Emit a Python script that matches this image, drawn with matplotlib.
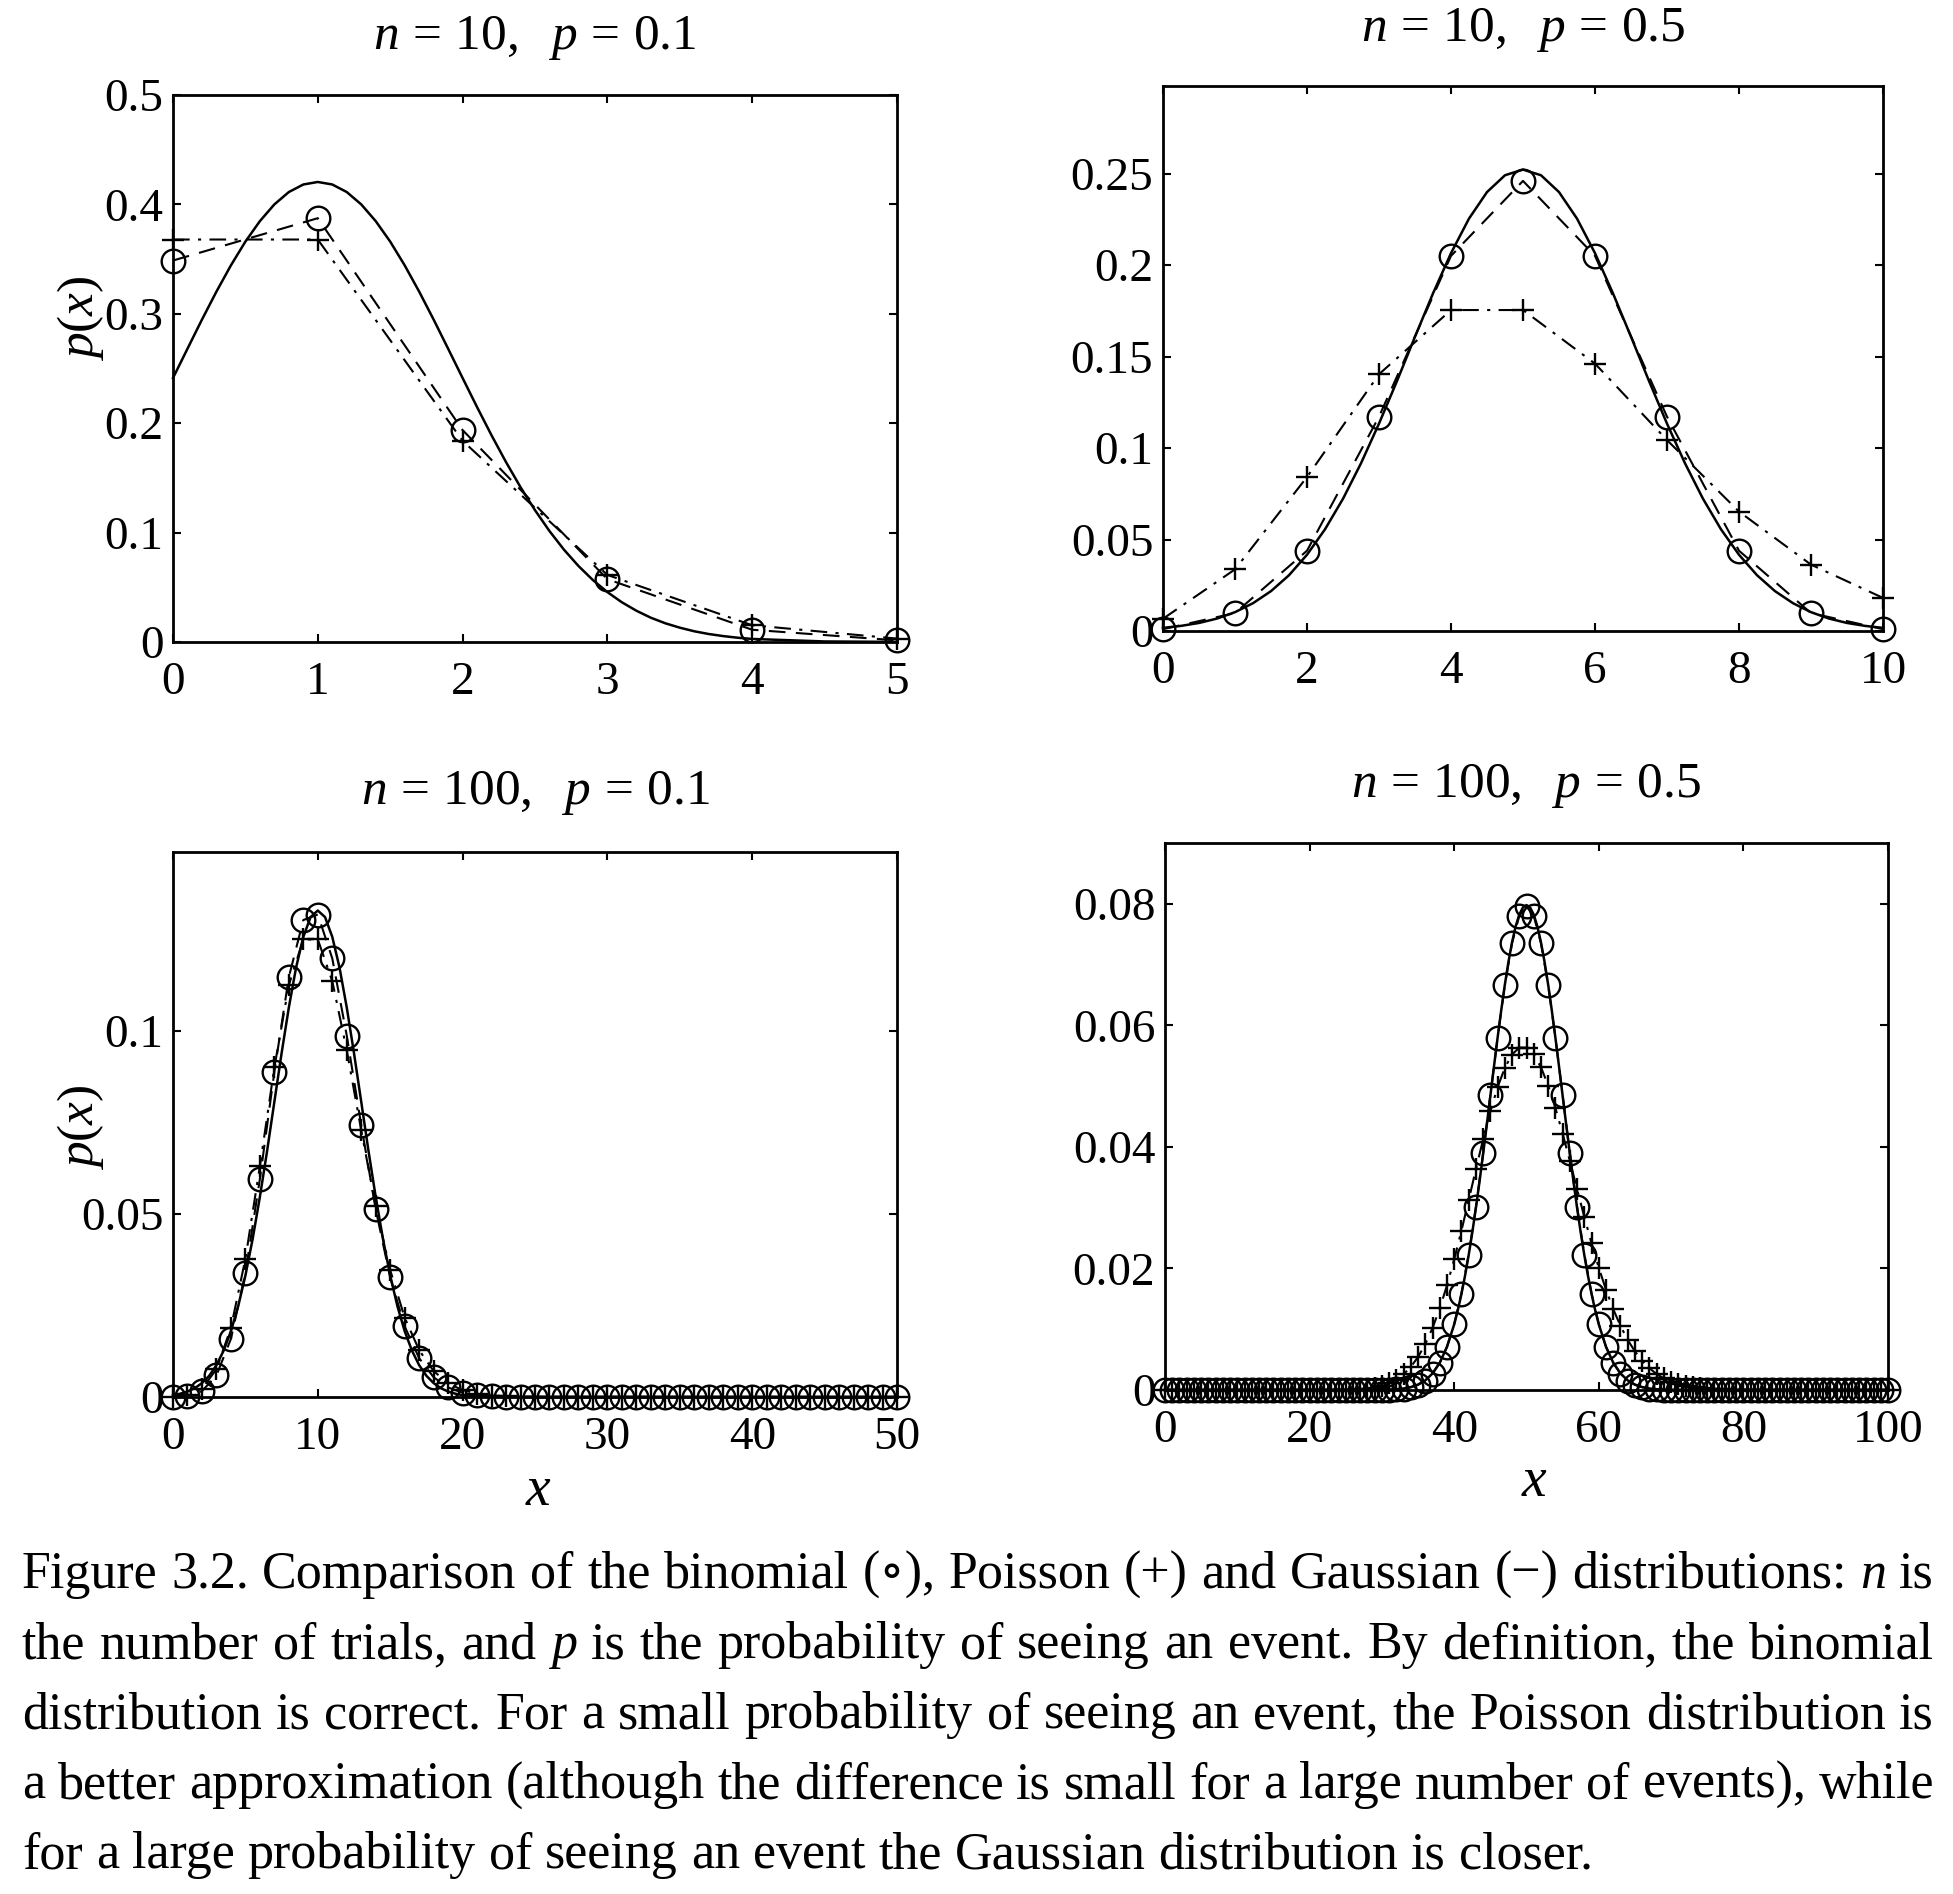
import numpy as np
import matplotlib
matplotlib.use("Agg")
import matplotlib.pyplot as plt
from matplotlib.ticker import FixedLocator, FixedFormatter

plt.rcParams['font.family'] = ['Liberation Serif', 'DejaVu Serif']
plt.rcParams['mathtext.fontset'] = 'custom'
plt.rcParams['mathtext.rm'] = 'Liberation Serif'
plt.rcParams['mathtext.it'] = 'Liberation Serif:italic'
plt.rcParams['mathtext.bf'] = 'Liberation Serif:bold'

# ---------------- data ----------------
# n = 10, p = 0.1
x_a = [0, 1, 2, 3, 4, 5]
binom_a = [0.3487, 0.3874, 0.1937, 0.0574, 0.0112, 0.0015]
poiss_a = [0.3679, 0.3679, 0.1839, 0.0613, 0.0153, 0.0031]
gauss_a_x = list(np.round(np.arange(0, 4.05, 0.1), 1)) + [4.5, 5.0]
gauss_a_y = [0.2413, 0.2681, 0.2947, 0.3203, 0.3443, 0.3660, 0.3847, 0.4000, 0.4113, 0.4182, 0.4205,
             0.4182, 0.4113, 0.4000, 0.3847, 0.3660, 0.3443, 0.3203, 0.2947, 0.2681, 0.2413,
             0.2147, 0.1889, 0.1644, 0.1415, 0.1205, 0.1014, 0.0844, 0.0695, 0.0566, 0.0456,
             0.0363, 0.0286, 0.0222, 0.0171, 0.0131, 0.0098, 0.0073, 0.0054, 0.0039, 0.0028,
             0.0005, 0.0001]

# n = 10, p = 0.5
x_b = [0, 1, 2, 3, 4, 5, 6, 7, 8, 9, 10]
binom_b = [0.0010, 0.0098, 0.0439, 0.1172, 0.2051, 0.2461, 0.2051, 0.1172, 0.0439, 0.0098, 0.0010]
poiss_b = [0.0067, 0.0337, 0.0842, 0.1404, 0.1755, 0.1755, 0.1462, 0.1044, 0.0653, 0.0363, 0.0181]
gauss_b_x = list(np.arange(0, 10.01, 0.25))
gauss_b_y = [0.0017, 0.0028, 0.0044, 0.0068, 0.0103, 0.0152, 0.0218, 0.0305, 0.0417, 0.0556,
             0.0723, 0.0917, 0.1134, 0.1367, 0.1609, 0.1846, 0.2066, 0.2255, 0.2400, 0.2492,
             0.2523,
             0.2492, 0.2400, 0.2255, 0.2066, 0.1846, 0.1609, 0.1367, 0.1134, 0.0917, 0.0723,
             0.0556, 0.0417, 0.0305, 0.0218, 0.0152, 0.0103, 0.0068, 0.0044, 0.0028, 0.0017]

# n = 100, p = 0.1
x_c = list(range(0, 51))
binom_c = [0.00003, 0.0003, 0.0016, 0.0059, 0.0159, 0.0339, 0.0596, 0.0889, 0.1148, 0.1304,
           0.1319, 0.1199, 0.0988, 0.0743, 0.0513, 0.0327, 0.0193, 0.0106, 0.0054, 0.0026,
           0.0012, 0.0005, 0.0002, 0.0001, 0.0,
           0.0, 0.0, 0.0, 0.0, 0.0, 0.0, 0.0, 0.0, 0.0, 0.0, 0.0, 0.0, 0.0,
           0.0, 0.0, 0.0, 0.0, 0.0, 0.0, 0.0, 0.0, 0.0, 0.0, 0.0, 0.0, 0.0]
poiss_c = [0.00005, 0.0005, 0.0023, 0.0076, 0.0189, 0.0378, 0.0631, 0.0901, 0.1126, 0.1251,
           0.1251, 0.1137, 0.0948, 0.0729, 0.0521, 0.0347, 0.0217, 0.0128, 0.0071, 0.0037,
           0.0019, 0.0009, 0.0004, 0.0002, 0.0001, 0.00003,
           0.0, 0.0, 0.0, 0.0, 0.0, 0.0, 0.0, 0.0, 0.0, 0.0, 0.0, 0.0,
           0.0, 0.0, 0.0, 0.0, 0.0, 0.0, 0.0, 0.0, 0.0, 0.0, 0.0, 0.0, 0.0]
gauss_c_x = list(np.arange(0, 20.01, 0.5)) + [21, 22, 50]
gauss_c_y = [0.0005, 0.0009, 0.0015, 0.0024, 0.0038, 0.0058, 0.0087, 0.0127, 0.0180, 0.0248,
             0.0332, 0.0432, 0.0547, 0.0673, 0.0807, 0.0940, 0.1065, 0.1174, 0.1258, 0.1312,
             0.1330,
             0.1312, 0.1258, 0.1174, 0.1065, 0.0940, 0.0807, 0.0673, 0.0547, 0.0432, 0.0332,
             0.0248, 0.0180, 0.0127, 0.0087, 0.0058, 0.0038, 0.0024, 0.0015, 0.0009, 0.0005,
             0.0002, 0.00004, 0.0]

# n = 100, p = 0.5
x_d = list(range(0, 101))
binom_d = [0.0, 0.0, 0.0, 0.0, 0.0, 0.0, 0.0, 0.0, 0.0, 0.0,
           0.0, 0.0, 0.0, 0.0, 0.0, 0.0, 0.0, 0.0, 0.0, 0.0,
           0.0, 0.0, 0.0, 0.0, 0.0, 0.0, 0.0, 0.0, 0.0, 0.0,
           0.00002, 0.00005, 0.00011, 0.00023, 0.00046, 0.00086, 0.00156, 0.00270, 0.00447, 0.00711,
           0.01084, 0.01587, 0.02229, 0.03007, 0.03895, 0.04847, 0.05796, 0.06659, 0.07353, 0.07803,
           0.07959,
           0.07803, 0.07353, 0.06659, 0.05796, 0.04847, 0.03895, 0.03007, 0.02229, 0.01587, 0.01084,
           0.00711, 0.00447, 0.00270, 0.00156, 0.00086, 0.00046, 0.00023, 0.00011, 0.00005, 0.00002,
           0.0, 0.0, 0.0, 0.0, 0.0, 0.0, 0.0, 0.0, 0.0, 0.0,
           0.0, 0.0, 0.0, 0.0, 0.0, 0.0, 0.0, 0.0, 0.0, 0.0,
           0.0, 0.0, 0.0, 0.0, 0.0, 0.0, 0.0, 0.0, 0.0, 0.0]
poiss_d = [0.0, 0.0, 0.0, 0.0, 0.0, 0.0, 0.0, 0.0, 0.0, 0.0,
           0.0, 0.0, 0.0, 0.0, 0.0, 0.0, 0.0, 0.0, 0.0, 0.0,
           0.0, 0.0, 0.0, 0.0, 0.0,
           0.00004, 0.00007, 0.00013, 0.00024, 0.00041,
           0.00068, 0.00109, 0.00171, 0.00259, 0.00380, 0.00543, 0.00755, 0.01020, 0.01342, 0.01720,
           0.02150, 0.02622, 0.03122, 0.03630, 0.04125, 0.04583, 0.04981, 0.05299, 0.05520, 0.05633,
           0.05633, 0.05523, 0.05310, 0.05010, 0.04639, 0.04217, 0.03765, 0.03303, 0.02847, 0.02413,
           0.02011, 0.01648, 0.01329, 0.01055, 0.00824, 0.00634, 0.00480, 0.00358, 0.00263, 0.00191,
           0.00136, 0.00096, 0.00067, 0.00046, 0.00031, 0.00020, 0.00013, 0.00009, 0.00006, 0.00004,
           0.00002,
           0.0, 0.0, 0.0, 0.0, 0.0, 0.0, 0.0, 0.0, 0.0, 0.0,
           0.0, 0.0, 0.0, 0.0, 0.0, 0.0, 0.0, 0.0, 0.0, 0.0]
gauss_d_x = ([0, 30, 32, 33, 34, 35, 36, 37, 38, 39] + list(np.arange(40, 60.01, 0.5))
             + [61, 62, 63, 64, 65, 66, 67, 68, 70, 100])
gauss_d_y = [0.0, 0.00003, 0.00012, 0.00025, 0.00048, 0.00089, 0.00158, 0.00272, 0.00448, 0.00709,
             0.01080, 0.01312, 0.01579, 0.01881, 0.02218, 0.02590, 0.02995, 0.03427, 0.03884, 0.04357,
             0.04839, 0.05322, 0.05794, 0.06245, 0.06665, 0.07041, 0.07366, 0.07628, 0.07821, 0.07939,
             0.07979,
             0.07939, 0.07821, 0.07628, 0.07366, 0.07041, 0.06665, 0.06245, 0.05794, 0.05322, 0.04839,
             0.04357, 0.03884, 0.03427, 0.02995, 0.02590, 0.02218, 0.01881, 0.01579, 0.01312, 0.01080,
             0.00709, 0.00448, 0.00272, 0.00158, 0.00089, 0.00048, 0.00025, 0.00012, 0.00003, 0.0]

titles = [r'$n\,=\,10,\ \ p\,=\,0.1$', r'$n\,=\,10,\ \ p\,=\,0.5$',
          r'$n\,=\,100,\ \ p\,=\,0.1$', r'$n\,=\,100,\ \ p\,=\,0.5$']
xticks = [[0, 1, 2, 3, 4, 5], [0, 2, 4, 6, 8, 10], [0, 10, 20, 30, 40, 50], [0, 20, 40, 60, 80, 100]]
xticklabels = [['0', '1', '2', '3', '4', '5'], ['0', '2', '4', '6', '8', '10'],
               ['0', '10', '20', '30', '40', '50'], ['0', '20', '40', '60', '80', '100']]
yticks = [[0, 0.1, 0.2, 0.3, 0.4, 0.5], [0, 0.05, 0.1, 0.15, 0.2, 0.25],
          [0, 0.05, 0.1], [0, 0.02, 0.04, 0.06, 0.08]]
yticklabels = [['0', '0.1', '0.2', '0.3', '0.4', '0.5'], ['0', '0.05', '0.1', '0.15', '0.2', '0.25'],
               ['0', '0.05', '0.1'], ['0', '0.02', '0.04', '0.06', '0.08']]
xlims = [(0, 5), (0, 10), (0, 50), (0, 100)]
ylims = [(0, 0.5), (0, 0.298), (0, 0.149), (0, 0.09)]

caption_lines = [
    "Figure 3.2. Comparison of the binomial (\u2218), Poisson (+) and Gaussian (\u2212) distributions: n is",
    "the number of trials, and p is the probability of seeing an event. By definition, the binomial",
    "distribution is correct. For a small probability of seeing an event, the Poisson distribution is",
    "a better approximation (although the difference is small for a large number of events), while",
    "for a large probability of seeing an event the Gaussian distribution is closer.",
]
caption_italic = [{13}, {5}, set(), set(), set()]   # word indices set in italics

# ---------------- layout ----------------
W, H = 1953, 1894
fig = plt.figure(figsize=(W / 100, H / 100), dpi=100)


def box(l, r, t, b):
    return [l / W, 1 - b / H, (r - l) / W, (b - t) / H]


boxes = [box(173, 897, 95, 642), box(1163, 1883, 86, 631),
         box(173, 897, 852, 1397), box(1165, 1888, 843, 1390)]
title_y = [38, 30, 793, 786]

data = [(x_a, binom_a, poiss_a, gauss_a_x, gauss_a_y),
        (x_b, binom_b, poiss_b, gauss_b_x, gauss_b_y),
        (x_c, binom_c, poiss_c, gauss_c_x, gauss_c_y),
        (x_d, binom_d, poiss_d, gauss_d_x, gauss_d_y)]

TICK_FS = 34
axes = []
for i in range(4):
    ax = fig.add_axes(boxes[i])
    axes.append(ax)
    xs, bi, po, gx, gy = data[i]
    ax.plot(xs, bi, color='black', lw=1.5, linestyle=(0, (8, 5)),
            marker='o', ms=17, mfc='none', mec='black', mew=1.7, clip_on=False, zorder=3)
    ax.plot(xs, po, color='black', lw=1.5, linestyle=(0, (8, 4, 1.5, 4)),
            marker='+', ms=16, mec='black', mew=1.7, clip_on=False, zorder=3)
    ax.plot(gx, gy, color='black', lw=1.8, linestyle='-', clip_on=False, zorder=4)
    ax.set_xlim(*xlims[i])
    ax.set_ylim(*ylims[i])
    ax.xaxis.set_major_locator(FixedLocator(xticks[i]))
    ax.xaxis.set_major_formatter(FixedFormatter(xticklabels[i]))
    ax.yaxis.set_major_locator(FixedLocator(yticks[i]))
    ax.yaxis.set_major_formatter(FixedFormatter(yticklabels[i]))
    ax.tick_params(direction='in', top=True, right=True, length=6, width=1.5,
                   labelsize=TICK_FS)
    ax.tick_params(axis='x', pad=14)
    ax.tick_params(axis='y', pad=7)
    for s in ax.spines.values():
        s.set_linewidth(2.0)
    bb = boxes[i]
    fig.text(bb[0] + bb[2] / 2, 1 - title_y[i] / H, titles[i], fontsize=37,
             ha='center', va='center')

# axis labels
fig.text(80 / W, 1 - 318 / H, r'$p(x)$', fontsize=37, rotation=90, ha='center', va='center')
fig.text(80 / W, 1 - 1127 / H, r'$p(x)$', fontsize=37, rotation=90, ha='center', va='center')
fig.text(538 / W, 1 - 1491 / H, r'$x$', fontsize=40, ha='center', va='center')
fig.text(1534 / W, 1 - 1482 / H, r'$x$', fontsize=40, ha='center', va='center')

# ---------------- caption (justified) ----------------
renderer = fig.canvas.get_renderer()


def width_of(s, fs, italic=False):
    t = fig.text(0, 0, s, fontsize=fs, style='italic' if italic else 'normal')
    w = t.get_window_extent(renderer).width
    t.remove()
    return w


CAP_LEFT, CAP_RIGHT = 22, 1934
LAST_TARGET = 1572
base_fs = 30
last_words = caption_lines[-1].split(' ')
sp0 = width_of('a a', base_fs) - width_of('aa', base_fs)
nat = sum(width_of(w, base_fs) for w in last_words) + sp0 * (len(last_words) - 1)
cap_fs = base_fs * LAST_TARGET / nat
space_w = width_of('a a', cap_fs) - width_of('aa', cap_fs)

baselines = [1588, 1658, 1728, 1798, 1868]
for li, line in enumerate(caption_lines):
    words = line.split(' ')
    widths = [width_of(w, cap_fs, k in caption_italic[li]) for k, w in enumerate(words)]
    if li < len(caption_lines) - 1:
        gap = (CAP_RIGHT - CAP_LEFT - sum(widths)) / (len(words) - 1)
    else:
        gap = space_w
    xpos = CAP_LEFT
    for k, w in enumerate(words):
        fig.text(xpos / W, 1 - baselines[li] / H, w, fontsize=cap_fs,
                 style='italic' if k in caption_italic[li] else 'normal',
                 ha='left', va='baseline')
        xpos += widths[k] + gap

fig.savefig('out.png', dpi=100)
